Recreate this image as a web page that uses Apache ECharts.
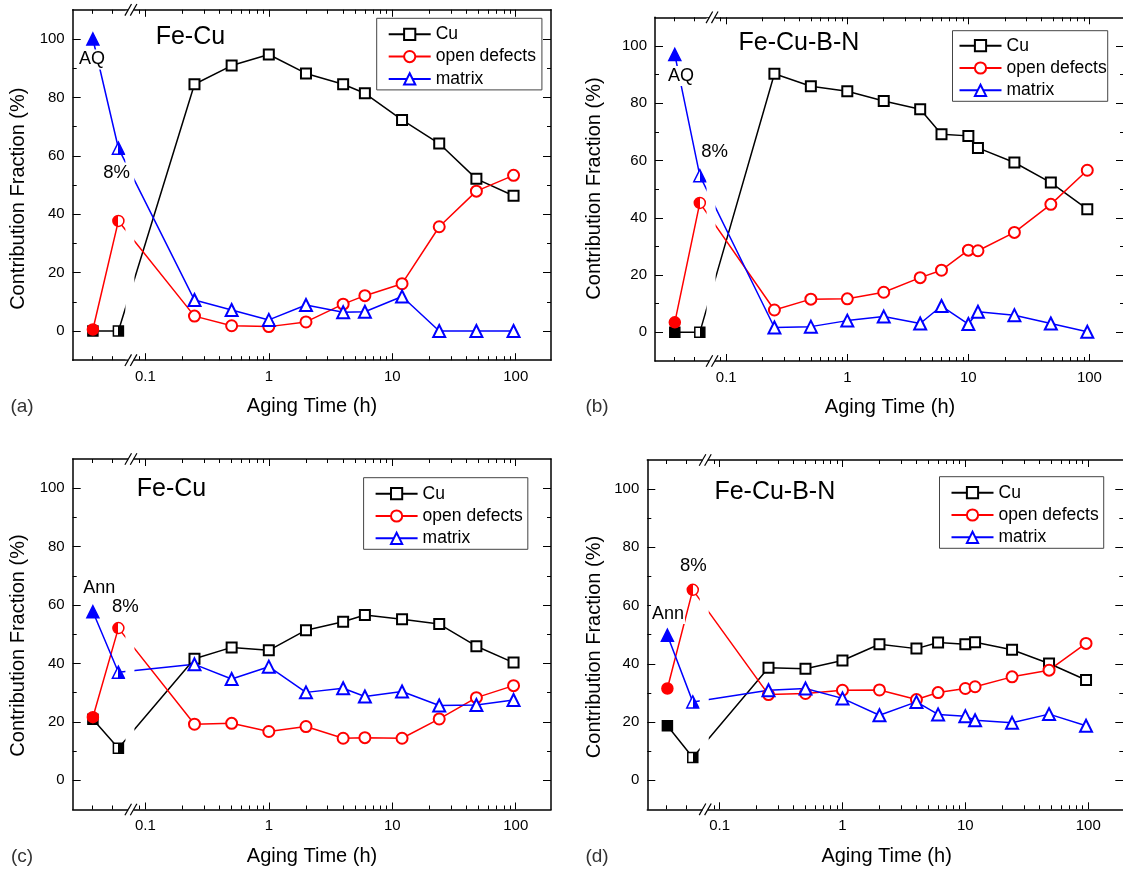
<!DOCTYPE html>
<html>
<head>
<meta charset="utf-8">
<title>Contribution Fraction vs Aging Time</title>
<script src="https://cdn.jsdelivr.net/npm/echarts@6/dist/echarts.min.js"></script>
<style>
  html, body { margin: 0; padding: 0; background: #fff; }
  #chart { width: 1123px; height: 874px; }
</style>
</head>
<body>
<div id="chart"></div>
<script>
// x positions of the two states drawn left of the axis break (AQ/Ann, 8% deformed)
const PRE_TIMES = [0.0376, 0.0605];
// aging times (h) of the Fe-Cu and Fe-Cu-B-N samples
const AGING_TIMES_CU = [0.25, 0.5, 1, 2, 4, 6, 12, 24, 48, 96];
const AGING_TIMES_CUBN = [0.25, 0.5, 1, 2, 4, 6, 10, 12, 24, 48, 96];

// tick values
const X_MAJOR_TICKS = [0.1, 1, 10, 100];
const X_MINOR_TICKS = [0.037, 0.054, 0.09, 0.2, 0.3, 0.4, 0.5, 0.6, 0.7, 0.8, 0.9,
  2, 3, 4, 5, 6, 7, 8, 9, 20, 30, 40, 50, 60, 70, 80, 90];
const Y_MAJOR_TICKS = [0, 20, 40, 60, 80, 100];
const Y_MINOR_TICKS = [10, 30, 50, 70, 90];

// (a) Fe-Cu, as-quenched
const cuA = [0, 0, 84.5, 90.9, 94.7, 88.2, 84.5, 81.4, 72.3, 64.2, 52.1, 46.3];
const defectsA = [0.5, 37.7, 5.1, 1.8, 1.5, 3.1, 9.2, 12.1, 16.2, 35.7, 47.9, 53.3];
const matrixA = [100, 62.6, 10.6, 7.2, 3.8, 8.9, 6.4, 6.6, 11.8, 0, 0, 0];

// (b) Fe-Cu-B-N, as-quenched
const cuB = [0, 0, 90.3, 85.9, 84.2, 80.8, 77.9, 69.2, 68.6, 64.4, 59.3, 52.3, 43.0];
const defectsB = [3.5, 45.2, 7.8, 11.6, 11.7, 14.0, 19.1, 21.7, 28.7, 28.5, 34.9, 44.7, 56.6];
const matrixB = [97.0, 54.7, 1.7, 2.0, 4.1, 5.5, 3.1, 9.2, 2.9, 7.2, 6.0, 3.1, 0.2];

// (c) Fe-Cu, annealed
const cuC = [20.9, 11.0, 41.6, 45.5, 44.5, 51.4, 54.3, 56.6, 55.1, 53.5, 45.9, 40.3];
const defectsC = [21.6, 52.1, 19.2, 19.5, 16.7, 18.4, 14.4, 14.6, 14.4, 21.0, 28.3, 32.4];
const matrixC = [57.7, 37.0, 39.7, 34.7, 38.9, 30.1, 31.5, 28.7, 30.4, 25.6, 25.8, 27.5];

// (d) Fe-Cu-B-N, annealed
const cuD = [18.7, 7.8, 38.6, 38.3, 41.1, 46.7, 45.2, 47.3, 46.7, 47.4, 44.8, 40.1, 34.4];
const defectsD = [31.5, 65.4, 29.4, 29.8, 30.9, 31.0, 27.7, 30.1, 31.5, 32.1, 35.5, 37.8, 47.0];
const matrixD = [49.8, 26.9, 30.9, 31.5, 28.1, 22.3, 26.9, 22.6, 22.0, 20.6, 19.7, 22.7, 18.7];

// axis ranges and the place of the axis break
const X_MIN = 0.0258;
const X_MAX = 193;
const Y_MIN = -10;
const Y_MAX = 110;
const BREAK_AT = 0.0764;

const FONT = '"Liberation Sans", Arial, Helvetica, sans-serif';
const COLORS = { cu: '#000000', defects: '#ff0000', matrix: '#0000ff' };

// layout of the four panels (pixels)
const panels = [
  {
    grid: { left: 72.7, top: 9.8, width: 478.3, height: 350.4 },
    times: PRE_TIMES.concat(AGING_TIMES_CU), cu: cuA, defects: defectsA, matrix: matrixA,
    title: 'Fe-Cu', titlePos: [155.7, 36.7], start: 'AQ', startPos: [92, 59.5], defPos: [116.6, 173.3],
    legend: [376.7, 18.3], legendPad: [7, 6, 2, 11],
    yTitle: [18.6, 198.7], xTitle: [312, 406.7], tag: '(a)', tagPos: [22, 407]
  },
  {
    grid: { left: 655, top: 17.3, width: 469, height: 343.7 },
    times: PRE_TIMES.concat(AGING_TIMES_CUBN), cu: cuB, defects: defectsB, matrix: matrixB,
    title: 'Fe-Cu-B-N', titlePos: [738.5, 43.3], start: 'AQ', startPos: [681, 76], defPos: [714.5, 151.7],
    legend: [952.5, 30.7], legendPad: [6, 1, 2, 6],
    yTitle: [594, 188.5], xTitle: [890, 407.3], tag: '(b)', tagPos: [597, 407]
  },
  {
    grid: { left: 72.7, top: 459, width: 478.3, height: 350.5 },
    times: PRE_TIMES.concat(AGING_TIMES_CU), cu: cuC, defects: defectsC, matrix: matrixC,
    title: 'Fe-Cu', titlePos: [136.8, 489], start: 'Ann', startPos: [99.3, 588.3], defPos: [125.4, 606.7],
    legend: [363.6, 477.7], legendPad: [7, 5, 2, 11],
    yTitle: [18.6, 645.5], xTitle: [312, 856.7], tag: '(c)', tagPos: [22, 857]
  },
  {
    grid: { left: 647.3, top: 460, width: 476, height: 349.3 },
    times: PRE_TIMES.concat(AGING_TIMES_CUBN), cu: cuD, defects: defectsD, matrix: matrixD,
    title: 'Fe-Cu-B-N', titlePos: [714.4, 491.7], start: 'Ann', startPos: [668, 614], defPos: [693.4, 566],
    legend: [939.5, 476.7], legendPad: [7, 5, 2, 11],
    yTitle: [594, 647], xTitle: [886.6, 856.7], tag: '(d)', tagPos: [597, 857]
  }
];

/**
 * Horizontal gradient that fills one half of a marker
 * @param {string} color - fill colour of the filled half
 * @param {string} side - 'left' or 'right'
 */
function halfFill(color, side) {
  const stops = side === 'right'
    ? [{ offset: 0, color: '#fff' }, { offset: 0.5, color: '#fff' }, { offset: 0.5, color: color }, { offset: 1, color: color }]
    : [{ offset: 0, color: color }, { offset: 0.5, color: color }, { offset: 0.5, color: '#fff' }, { offset: 1, color: '#fff' }];
  return new echarts.graphic.LinearGradient(0, 0, 1, 0, stops);
}

/**
 * Pairs times with values; first point filled, second half filled
 */
function buildData(times, values, color, shape, side) {
  return values.map((v, i) => {
    if (i === 0) {
      return { value: [times[i], v], symbol: shape, itemStyle: { color: color, borderColor: color } };
    }
    if (i === 1) {
      return { value: [times[i], v], symbol: shape, itemStyle: { color: halfFill(color, side), borderColor: color } };
    }
    return [times[i], v];
  });
}

const tickStyle = { color: '#000', width: 1 };
const lineAxis = { onZero: false, lineStyle: { color: '#000', width: 1.5 } };
const labelStyle = { color: '#000', fontSize: 15, fontFamily: FONT };

// four x axes (bottom/top, major/minor) for each grid
function buildXAxes(g) {
  const base = { type: 'log', gridIndex: g, min: X_MIN, max: X_MAX, splitLine: { show: false } };
  return ['bottom', 'top'].flatMap(pos => [
    Object.assign({}, base, {
      position: pos,
      axisLine: lineAxis,
      axisTick: { inside: true, length: 7, customValues: X_MAJOR_TICKS, lineStyle: tickStyle },
      axisLabel: pos === 'bottom'
        ? Object.assign({ customValues: X_MAJOR_TICKS, margin: 9, formatter: v => String(v) }, labelStyle)
        : { show: false }
    }),
    Object.assign({}, base, {
      position: pos,
      axisLine: { show: false, onZero: false },
      axisTick: { inside: true, length: 4, customValues: X_MINOR_TICKS, lineStyle: tickStyle },
      axisLabel: { show: false }
    })
  ]);
}

// four y axes (left/right, major/minor) for each grid
function buildYAxes(g) {
  const base = { type: 'value', gridIndex: g, min: Y_MIN, max: Y_MAX, splitLine: { show: false } };
  return ['left', 'right'].flatMap(pos => [
    Object.assign({}, base, {
      position: pos,
      axisLine: Object.assign({ show: true }, lineAxis),
      axisTick: { show: true, inside: true, length: 8, customValues: Y_MAJOR_TICKS, lineStyle: tickStyle },
      axisLabel: pos === 'left'
        ? Object.assign({ customValues: Y_MAJOR_TICKS, margin: 8 }, labelStyle)
        : { show: false }
    }),
    Object.assign({}, base, {
      position: pos,
      axisLine: { show: false, onZero: false },
      axisTick: { show: true, inside: true, length: 4, customValues: Y_MINOR_TICKS, lineStyle: tickStyle },
      axisLabel: { show: false }
    })
  ]);
}

// three line series for each grid
function buildSeries(p, g) {
  const defs = [
    { name: 'Cu', values: p.cu, color: COLORS.cu, symbol: 'emptyRect', shape: 'rect', size: 10, side: 'right' },
    { name: 'open defects', values: p.defects, color: COLORS.defects, symbol: 'emptyCircle', shape: 'circle', size: 11, side: 'left' },
    { name: 'matrix', values: p.matrix, color: COLORS.matrix, symbol: 'emptyTriangle', shape: 'triangle', size: 12, side: 'right' }
  ];
  return defs.map(d => ({
    type: 'line',
    name: d.name,
    xAxisIndex: g * 4,
    yAxisIndex: g * 4,
    data: buildData(p.times, d.values, d.color, d.shape, d.side),
    symbol: d.symbol,
    symbolSize: d.size,
    showAllSymbol: true,
    itemStyle: { color: d.color, borderColor: d.color, borderWidth: 1.5 },
    lineStyle: { color: d.color, width: 1.5 },
    emphasis: { disabled: true }
  }));
}

function buildLegends() {
  return panels.map(p => ({
    orient: 'vertical',
    left: p.legend[0],
    top: p.legend[1],
    data: ['Cu', 'open defects', 'matrix'],
    itemWidth: 42,
    itemHeight: 14,
    itemGap: 4.3,
    padding: p.legendPad,
    borderColor: '#444',
    borderWidth: 1,
    selectedMode: false,
    textStyle: { color: '#000', fontSize: 17.5, lineHeight: 18, fontFamily: FONT }
  }));
}

function text(x, y, str, size, extra) {
  return Object.assign({
    type: 'text', x: x, y: y, z: 200,
    style: { text: str, fontSize: size, fontFamily: FONT, fill: '#000', align: 'center', verticalAlign: 'middle' }
  }, extra || {});
}

// texts of every panel
function buildTexts() {
  const els = [];
  panels.forEach(p => {
    els.push(text(p.titlePos[0], p.titlePos[1], p.title, 25, null));
    els[els.length - 1].style.align = 'left';
    const s = text(p.startPos[0], p.startPos[1], p.start, 18, null);
    s.style.backgroundColor = '#fff';
    s.style.padding = [1, 1];
    els.push(s);
    const d = text(p.defPos[0], p.defPos[1], '8%', 18.5, null);
    d.style.backgroundColor = '#fff';
    d.style.padding = [1, 1];
    els.push(d);
    els.push(text(p.yTitle[0], p.yTitle[1], 'Contribution Fraction (%)', 20, { rotation: Math.PI / 2 }));
    els.push(text(p.xTitle[0], p.xTitle[1], 'Aging Time (h)', 20, null));
    const t = text(p.tagPos[0], p.tagPos[1], p.tag, 19, null);
    t.style.fill = '#333';
    els.push(t);
  });
  return els;
}

// white gap and // marks of the broken x axis
function buildBreaks(chart) {
  const els = [];
  panels.forEach((p, g) => {
    const cx = chart.convertToPixel({ xAxisIndex: g * 4 }, BREAK_AT);
    const top = p.grid.top;
    const bottom = p.grid.top + p.grid.height;
    els.push({ type: 'rect', z: 100, shape: { x: cx - 5.5, y: top + 1, width: 9, height: bottom - top - 2 }, style: { fill: '#fff' } });
    [top, bottom].forEach(y => {
      els.push({ type: 'rect', z: 100, shape: { x: cx - 2.7, y: y - 3, width: 5.4, height: 6 }, style: { fill: '#fff' } });
      [-2.7, 2.7].forEach(dx => {
        els.push({
          type: 'line', z: 101,
          shape: { x1: cx + dx - 3.3, y1: y + 5.8, x2: cx + dx + 3.3, y2: y - 5.8 },
          style: { stroke: '#000', lineWidth: 1.2 }
        });
      });
    });
  });
  return els;
}

const chart = echarts.init(document.getElementById('chart'), null, { renderer: 'canvas' });

const option = {
  animation: false,
  backgroundColor: '#fff',
  textStyle: { fontFamily: FONT },
  grid: panels.map(p => Object.assign({ outerBoundsMode: 'none', containLabel: false }, p.grid)),
  xAxis: panels.flatMap((p, g) => buildXAxes(g)),
  yAxis: panels.flatMap((p, g) => buildYAxes(g)),
  legend: buildLegends(),
  series: panels.flatMap((p, g) => buildSeries(p, g))
};

chart.setOption(option);
chart.setOption({ graphic: { elements: buildBreaks(chart).concat(buildTexts()) } });
</script>
</body>
</html>
